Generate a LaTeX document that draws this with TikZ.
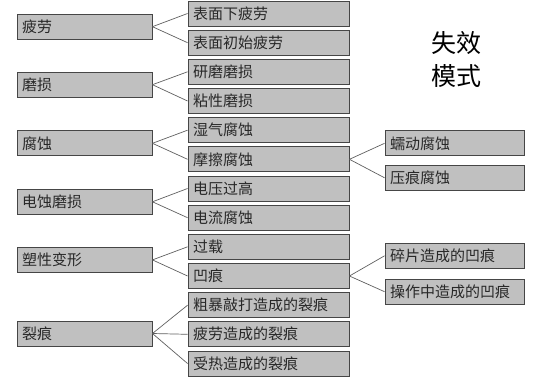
\documentclass[tikz,border=0pt]{standalone}
\usepackage{fontspec}
\newfontfamily\cjk{Noto Sans CJK SC}
\usepackage{tikz}
\definecolor{boxfill}{RGB}{192,192,192}
\definecolor{boxline}{RGB}{70,70,70}
\definecolor{linkline}{RGB}{95,95,95}
\definecolor{txt}{RGB}{40,40,40}

\begin{document}
\begin{tikzpicture}[
  x=1pt, y=-1pt,
  box/.style={draw=boxline, fill=boxfill, line width=0.9pt, minimum height=25pt,
    inner xsep=5pt, inner ysep=0pt, align=left, text=txt,
    font=\cjk\fontsize{15}{16}\selectfont},
  cat/.style={box, text width=125pt},
  mode/.style={box, text width=151pt},
  sub/.style={box, text width=129pt},
  link/.style={draw=linkline, line width=0.7pt}
]
  \useasboundingbox (0,0) rectangle (548,377);

  % left column: failure categories
  \node[cat] (fatigue) at (84.5,26.7)  {疲劳};
  \node[cat] (wear)    at (84.5,84.7)  {磨损};
  \node[cat] (corr)    at (84.5,143.3) {腐蚀};
  \node[cat] (elec)    at (84.5,201.8) {电蚀磨损};
  \node[cat] (plast)   at (84.5,259.9) {塑性变形};
  \node[cat] (crack)   at (84.5,333.5) {裂痕};

  % middle column
  \node[mode] (subfat)  at (268.5,13.5)  {表面下疲劳};
  \node[mode] (surffat) at (268.5,42.7)  {表面初始疲劳};
  \node[mode] (abras)   at (268.5,71.8)  {研磨磨损};
  \node[mode] (adhes)   at (268.5,101.0) {粘性磨损};
  \node[mode] (moist)   at (268.5,130.2) {湿气腐蚀};
  \node[mode] (fret)    at (268.5,159.3) {摩擦腐蚀};
  \node[mode] (volt)    at (268.5,188.5) {电压过高};
  \node[mode] (curr)    at (268.5,217.7) {电流腐蚀};
  \node[mode] (overld)  at (268.5,246.8) {过载};
  \node[mode] (dent)    at (268.5,276.0) {凹痕};
  \node[mode] (rough)   at (268.5,305.2) {粗暴敲打造成的裂痕};
  \node[mode] (fatcrk)  at (268.5,334.3) {疲劳造成的裂痕};
  \node[mode] (heatcrk) at (268.5,363.5) {受热造成的裂痕};

  % right column
  \node[sub] (creep)  at (454.5,143.3) {蠕动腐蚀};
  \node[sub] (brinel) at (454.5,177.8) {压痕腐蚀};
  \node[sub] (debris) at (454.5,255.8) {碎片造成的凹痕};
  \node[sub] (handl)  at (454.5,291.7) {操作中造成的凹痕};

  % title
  \node[align=center, text=black, font=\cjk\fontsize{25}{33}\selectfont] (title)
    at (456,60) {失效\\模式};

  \draw[link] (fatigue.east) -- (subfat.west);
  \draw[link] (fatigue.east) -- (surffat.west);
  \draw[link] (wear.east) -- (abras.west);
  \draw[link] (wear.east) -- (adhes.west);
  \draw[link] (corr.east) -- (moist.west);
  \draw[link] (corr.east) -- (fret.west);
  \draw[link] (elec.east) -- (volt.west);
  \draw[link] (elec.east) -- (curr.west);
  \draw[link] (plast.east) -- (overld.west);
  \draw[link] (plast.east) -- (dent.west);
  \draw[link] (crack.east) -- (rough.west);
  \draw[link] (crack.east) -- (fatcrk.west);
  \draw[link] (crack.east) -- (heatcrk.west);
  \draw[link] (fret.east) -- (creep.west);
  \draw[link] (fret.east) -- (brinel.west);
  \draw[link] (dent.east) -- (debris.west);
  \draw[link] (dent.east) -- (handl.west);
\end{tikzpicture}
\end{document}
